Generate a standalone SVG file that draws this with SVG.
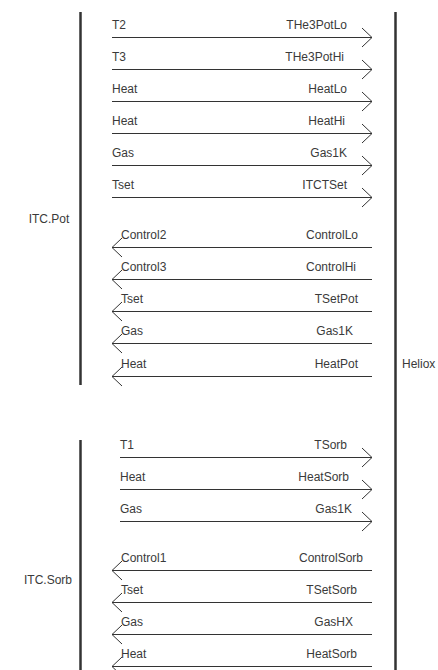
<svg xmlns="http://www.w3.org/2000/svg" width="438" height="670" viewBox="0 0 438 670">
<style>
text{font-family:"Liberation Sans",Arial,sans-serif;font-size:12px;fill:#3a3a3a}
.e{text-anchor:end}
.m{text-anchor:middle}
.bar{stroke:#333;stroke-width:2.5;fill:none}
.ln{stroke:#333;stroke-width:1;fill:none;marker-end:url(#ah)}
</style>
<defs>
<marker id="ah" markerUnits="userSpaceOnUse" markerWidth="14" markerHeight="22" viewBox="-1 -11 14 22" refX="10" refY="0" orient="auto">
<path d="M0,-9.5 L10,0 L0,9.5" fill="none" stroke="#333" stroke-width="1"/>
</marker>
</defs>
<rect width="438" height="670" fill="#fff"/>
<g id="ITC.Pot">
<line class="bar" x1="80.5" y1="12" x2="80.5" y2="385"/>
<text class="m" x="49" y="223">ITC.Pot</text>
</g>
<g id="ITC.Sorb">
<line class="bar" x1="80.5" y1="440" x2="80.5" y2="670"/>
<text class="m" x="48" y="584">ITC.Sorb</text>
</g>
<g id="Heliox">
<line class="bar" x1="395.5" y1="12" x2="395.5" y2="670"/>
<text x="402" y="368">Heliox</text>
</g>
<g id="connectors">
<line class="ln" x1="112" y1="37.5" x2="372" y2="37.5"/>
<text x="112" y="29">T2</text><text class="e" x="347" y="29">THe3PotLo</text>
<line class="ln" x1="112" y1="69.5" x2="372" y2="69.5"/>
<text x="112" y="61">T3</text><text class="e" x="344" y="61">THe3PotHi</text>
<line class="ln" x1="112" y1="101.5" x2="372" y2="101.5"/>
<text x="112" y="93">Heat</text><text class="e" x="347" y="93">HeatLo</text>
<line class="ln" x1="112" y1="133.5" x2="372" y2="133.5"/>
<text x="112" y="125">Heat</text><text class="e" x="345" y="125">HeatHi</text>
<line class="ln" x1="112" y1="165.5" x2="372" y2="165.5"/>
<text x="112" y="157">Gas</text><text class="e" x="347" y="157">Gas1K</text>
<line class="ln" x1="112" y1="197.5" x2="372" y2="197.5"/>
<text x="112" y="189">Tset</text><text class="e" x="347" y="189">ITCTSet</text>
<line class="ln" x1="372" y1="247.5" x2="112" y2="247.5"/>
<text x="121" y="239">Control2</text><text class="e" x="358" y="239">ControlLo</text>
<line class="ln" x1="372" y1="279.5" x2="112" y2="279.5"/>
<text x="121" y="271">Control3</text><text class="e" x="356" y="271">ControlHi</text>
<line class="ln" x1="372" y1="311.5" x2="112" y2="311.5"/>
<text x="121" y="303">Tset</text><text class="e" x="358" y="303">TSetPot</text>
<line class="ln" x1="372" y1="343.5" x2="112" y2="343.5"/>
<text x="121" y="335">Gas</text><text class="e" x="353" y="335">Gas1K</text>
<line class="ln" x1="372" y1="376.5" x2="112" y2="376.5"/>
<text x="121" y="368">Heat</text><text class="e" x="358" y="368">HeatPot</text>
<line class="ln" x1="120" y1="457.5" x2="372" y2="457.5"/>
<text x="120" y="449">T1</text><text class="e" x="347" y="449">TSorb</text>
<line class="ln" x1="120" y1="489.5" x2="372" y2="489.5"/>
<text x="120" y="481">Heat</text><text class="e" x="349" y="481">HeatSorb</text>
<line class="ln" x1="120" y1="521.5" x2="372" y2="521.5"/>
<text x="120" y="513">Gas</text><text class="e" x="352" y="513">Gas1K</text>
<line class="ln" x1="372" y1="570.5" x2="112" y2="570.5"/>
<text x="121" y="562">Control1</text><text class="e" x="363" y="562">ControlSorb</text>
<line class="ln" x1="372" y1="602.5" x2="112" y2="602.5"/>
<text x="121" y="594">Tset</text><text class="e" x="357" y="594">TSetSorb</text>
<line class="ln" x1="372" y1="634.5" x2="112" y2="634.5"/>
<text x="121" y="626">Gas</text><text class="e" x="353" y="626">GasHX</text>
<line class="ln" x1="372" y1="666.5" x2="112" y2="666.5"/>
<text x="121" y="658">Heat</text><text class="e" x="357" y="658">HeatSorb</text>
</g>
</svg>
